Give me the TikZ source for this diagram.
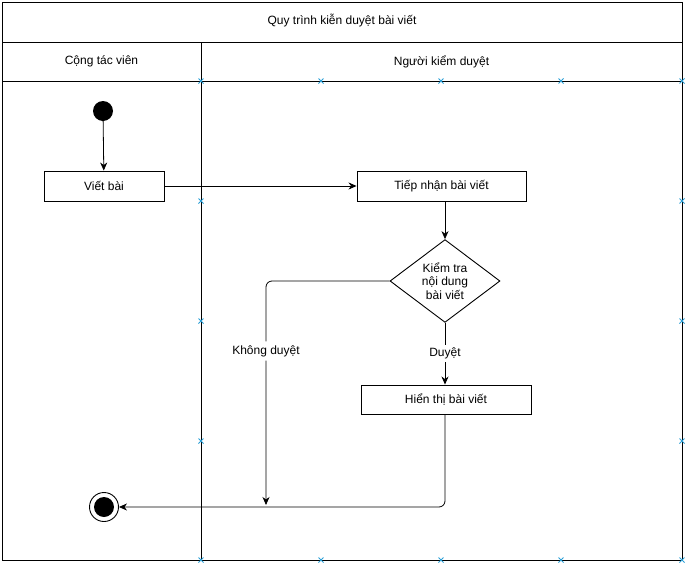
\documentclass[tikz,border=0pt]{standalone}
\usepackage{fontspec}
\setmainfont{Liberation Sans}
\usetikzlibrary{arrows.meta,shapes.geometric}

\definecolor{selblue}{HTML}{2A9FD6}

\tikzset{
  lane/.style={draw, line width=1pt},
  action/.style={draw, line width=0.9pt, minimum width=120pt, minimum height=30pt, inner sep=0pt},
  decision/.style={diamond, draw, line width=0.9pt, minimum width=110pt, minimum height=80pt,
                   inner sep=0pt, align=center, font=\fontsize{12}{13.5}\selectfont},
  startdot/.style={circle, fill, minimum size=20pt, inner sep=0pt},
  enddot/.style={circle, draw, line width=0.9pt, minimum size=29pt, inner sep=0pt},
  flow/.style={-{Stealth[length=8pt,width=7pt,inset=2.5pt]}, line width=0.8pt},
  selcross/.style={selblue, line width=0.9pt}
}

\begin{document}
\begin{tikzpicture}[x=1pt, y=-1pt, font=\fontsize{12}{14}\selectfont]
  \useasboundingbox (0,0) rectangle (689,563);

  % swimlanes
  \draw[lane] (2,2) rectangle (682,560);
  \draw[lane] (2,42) -- (682,42);
  \draw[lane] (2,81) -- (682,81);
  \draw[lane] (201,42) -- (201,560);

  \node (title) at (342,21) {Quy trình kiễn duyệt bài viết};
  \node (lanea) at (101.5,61.5) {Cộng tác viên};
  \node (laneb) at (441.5,61.5) {Người kiểm duyệt};

  % selection marks
  \foreach \x/\y in {201/81, 321/81, 441/81, 561/81, 682/81,
                     682/201, 682/321, 682/441, 682/560,
                     201/201, 201/321, 201/441, 201/560,
                     321/560, 441/560, 561/560}
    \draw[selcross] (\x-2.5,\y-2.5) -- (\x+2.5,\y+2.5) (\x-2.5,\y+2.5) -- (\x+2.5,\y-2.5);

  % activity nodes
  \node[startdot] (begin) at (103,111) {};
  \node[action] (write) at (104,186) {Viết bài};
  \node[action, minimum width=169pt] (receive) at (441.5,186) {Tiếp nhận bài viết};
  \node[decision] (check) at (445,281) {Kiểm tra\\nội dung\\bài viết};
  \node[action, minimum width=170pt, minimum height=29pt] (show) at (446,399.5) {Hiển thị bài viết};
  \node[enddot] (finish) at (104,507) {};
  \fill (finish.center) circle (10pt);
  \coordinate (reject) at (266,505);

  % connectors
  \draw[flow] (begin) -- (write);
  \draw[flow] (write) -- (receive);
  \draw[flow] (receive.south -| check.north) -- (check.north);
  \draw[flow] (check.south) -- node[fill=white, inner sep=3pt] {Duyệt} (show.north -| check.south);
  \draw[flow, rounded corners=6pt] (check.west) -| node[pos=0.656, fill=white, inner sep=4pt] {Không duyệt} (reject);
  \draw[flow, rounded corners=6pt] (show.south -| check.south) |- (finish.east);
\end{tikzpicture}
\end{document}
